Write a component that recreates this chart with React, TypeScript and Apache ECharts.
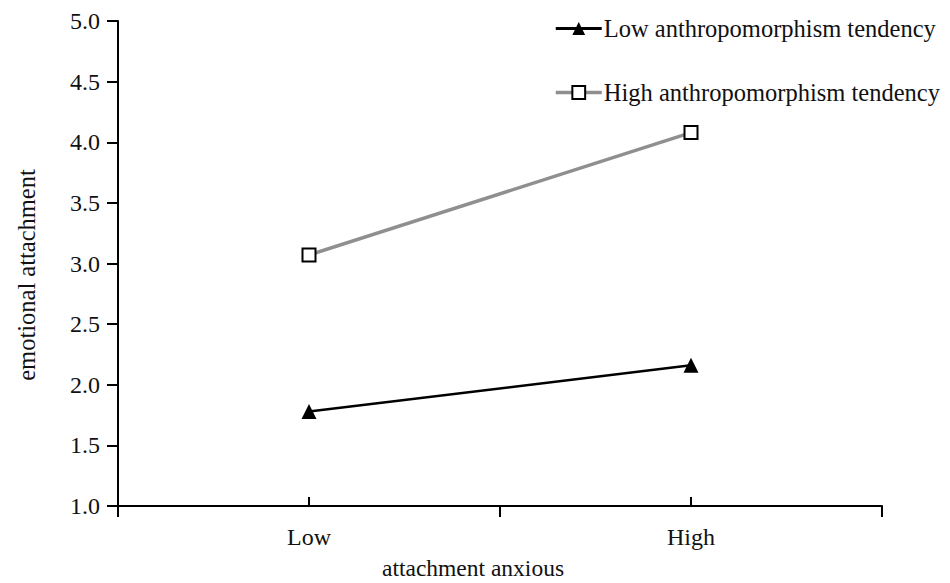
import React, { useEffect, useRef } from "react";
import * as echarts from "echarts";

const categories = ["Low", "High"];
const seriesNames = ["Low anthropomorphism tendency", "High anthropomorphism tendency"];
const lowAnthro = [1.78, 2.16];
const highAnthro = [3.07, 4.08];
const yMin = 1.0;
const yMax = 5.0;
const yInterval = 0.5;
const xTitle = "attachment anxious";
const yTitle = "emotional attachment";

const FONT = "Liberation Serif";

export default function App() {
  const ref = useRef<HTMLDivElement>(null);
  useEffect(() => {
    if (!ref.current) return;
    const chart = echarts.init(ref.current, undefined, { renderer: "svg" });
    chart.setOption({
      animation: false,
      backgroundColor: "#fff",
      textStyle: { fontFamily: FONT },
      grid: { left: 118, right: 68, top: 21, bottom: 77, containLabel: false },
      legend: {
        orient: "vertical",
        left: 549,
        top: 11,
        itemWidth: 46,
        itemHeight: 16,
        itemGap: 39,
        textStyle: { fontFamily: FONT, fontSize: 24.5, color: "#111", padding: [0, 0, 0, -3] },
        data: [
          { name: seriesNames[0], lineStyle: { width: 3, color: "#000" } },
          { name: seriesNames[1], lineStyle: { width: 3.5, color: "#8f8f8f" } },
        ],
      },
      xAxis: [
        {
          type: "category",
          data: categories,
          boundaryGap: true,
          axisLine: { show: true, lineStyle: { color: "#000", width: 2 } },
          axisTick: { show: true, inside: false, length: 11, lineStyle: { color: "#000", width: 2 } },
          axisLabel: { fontFamily: FONT, fontSize: 24, color: "#111", margin: 19 },
          splitLine: { show: false },
        },
        {
          type: "category",
          data: categories,
          boundaryGap: true,
          position: "bottom",
          axisLine: { show: false },
          axisTick: { show: true, inside: true, alignWithLabel: true, length: 9, lineStyle: { color: "#000", width: 2 } },
          axisLabel: { show: false },
          splitLine: { show: false },
        },
      ],
      yAxis: {
        type: "value",
        min: yMin,
        max: yMax,
        interval: yInterval,
        axisLine: { show: true, lineStyle: { color: "#000", width: 2 } },
        axisTick: { show: true, inside: false, length: 11, lineStyle: { color: "#000", width: 2 } },
        axisLabel: {
          fontFamily: FONT,
          fontSize: 24,
          color: "#111",
          margin: 18,
          formatter: (v: number) => v.toFixed(1),
        },
        splitLine: { show: false },
      },
      graphic: [
        {
          type: "text",
          x: 473,
          y: 568,
          style: { text: xTitle, fontFamily: FONT, fontSize: 23.5, fill: "#111", align: "center", verticalAlign: "middle" },
        },
        {
          type: "text",
          x: 26,
          y: 275,
          rotation: Math.PI / 2,
          style: { text: yTitle, fontFamily: FONT, fontSize: 24.5, fill: "#111", align: "center", verticalAlign: "middle" },
        },
      ],
      series: [
        {
          name: seriesNames[0],
          type: "line",
          xAxisIndex: 0,
          data: lowAnthro,
          symbol: "triangle",
          symbolSize: 15,
          itemStyle: { color: "#000" },
          lineStyle: { color: "#000", width: 2.5 },
        },
        {
          name: seriesNames[1],
          type: "line",
          xAxisIndex: 0,
          data: highAnthro,
          symbol: "rect",
          symbolSize: 13,
          itemStyle: { color: "#fff", borderColor: "#000", borderWidth: 2 },
          lineStyle: { color: "#8f8f8f", width: 3.5 },
        },
      ],
    });
    return () => chart.dispose();
  }, []);
  return <div ref={ref} style={{ width: 950, height: 583, position: "absolute", left: 0, top: 0 }} />;
}
